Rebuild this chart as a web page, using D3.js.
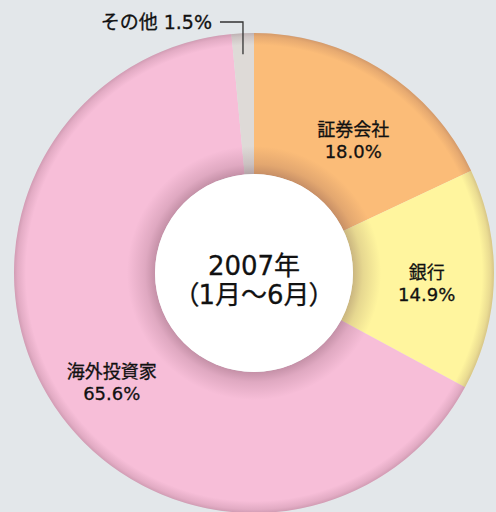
<!DOCTYPE html>
<html>
<head>
<meta charset="utf-8">
<script src="https://cdn.jsdelivr.net/npm/d3@7"></script>
<style>
  html, body { margin: 0; padding: 0; background: #e3e7ea; }
  svg { display: block; }
  text { font-family: "DejaVu Sans", "Noto Sans CJK JP", sans-serif; fill: #111; stroke: #111; stroke-width: 0.3; }
</style>
</head>
<body>
<script>
// share of trading, 2007 Jan-Jun
var categories = ["証券会社", "銀行", "海外投資家", "その他"],
    shares = [18.0, 14.9, 65.6, 1.5],
    labels = ["18.0%", "14.9%", "65.6%", "1.5%"],
    colors = ["#fbbc78", "#fff59e", "#f7bed8", "#dedad7"];

var w = 496, h = 512,
    cx = 254, cy = 273,
    rOuter = 240, rInner = 99;

var svg = d3.select("body").append("svg")
    .attr("width", w)
    .attr("height", h);

// shading of the ring: dark near the hole and on the rim
var grad = svg.append("defs").append("radialGradient")
    .attr("id", "ringShade")
    .attr("gradientUnits", "userSpaceOnUse")
    .attr("cx", 0).attr("cy", 0).attr("r", rOuter);
var stops = [
    [rInner / rOuter, 0.32],
    [(rInner + 10) / rOuter, 0.15],
    [(rInner + 28) / rOuter, 0.0],
    [0.95, 0.0],
    [0.985, 0.13],
    [1, 0.24]
];
grad.selectAll("stop").data(stops).enter().append("stop")
    .attr("offset", function(d){ return d[0]; })
    .attr("stop-color", "#5a3040")
    .attr("stop-opacity", function(d){ return d[1]; });

var pie = d3.pie().sort(null).value(function(d){ return d; });
var arcs = pie(shares);
var arc = d3.arc().innerRadius(rInner).outerRadius(rOuter);

var g = svg.append("g").attr("transform", "translate(" + cx + "," + cy + ")");

g.selectAll("path.slice").data(arcs).enter().append("path")
    .attr("class", "slice")
    .attr("d", arc)
    .attr("fill", function(d, i){ return colors[i]; });

// shade overlay over the whole ring
g.append("path")
    .attr("d", arc({startAngle: 0, endAngle: 2 * Math.PI}))
    .attr("fill", "url(#ringShade)");

// white centre
g.append("circle").attr("r", rInner).attr("fill", "#fff");

// labels in the slices (block centre at radius, angle nudged off the middle)
var labelRadius = [165, 173, 180];
var labelAngleShift = [0.08, 0.035, -0.075];
arcs.slice(0, 3).forEach(function(d, i){
    var a = (d.startAngle + d.endAngle) / 2 + labelAngleShift[i];
    var x = Math.sin(a) * labelRadius[i],
        y = -Math.cos(a) * labelRadius[i];
    var t = g.append("text")
        .attr("text-anchor", "middle")
        .attr("font-size", 18);
    t.append("tspan").attr("x", x).attr("y", y - 5).text(categories[i]);
    t.append("tspan").attr("x", x).attr("y", y + 17).text(labels[i]);
});

// small slice: label outside with a leader line
var other = arcs[3];
var oa = (other.startAngle + other.endAngle) / 2;
var ox = Math.sin(oa) * (rOuter - 6),
    oy = -Math.cos(oa) * (rOuter - 6);
g.append("path")
    .attr("d", "M" + (ox - 23) + "," + (-251) + "H" + ox + "V" + (oy + 15))
    .attr("fill", "none")
    .attr("stroke", "#333")
    .attr("stroke-width", 1.3);
g.append("text")
    .attr("x", ox - 31)
    .attr("y", -244)
    .attr("text-anchor", "end")
    .attr("font-size", 19)
    .text(categories[3] + " " + labels[3]);

// centre title
var title = g.append("text")
    .attr("text-anchor", "middle")
    .attr("font-size", 26)
    .style("font-feature-settings", "'palt'");
title.append("tspan").attr("x", 0).attr("y", 2).text("2007年");
title.append("tspan").attr("x", 0).attr("y", 31).text("（1月〜6月）");
</script>
</body>
</html>
